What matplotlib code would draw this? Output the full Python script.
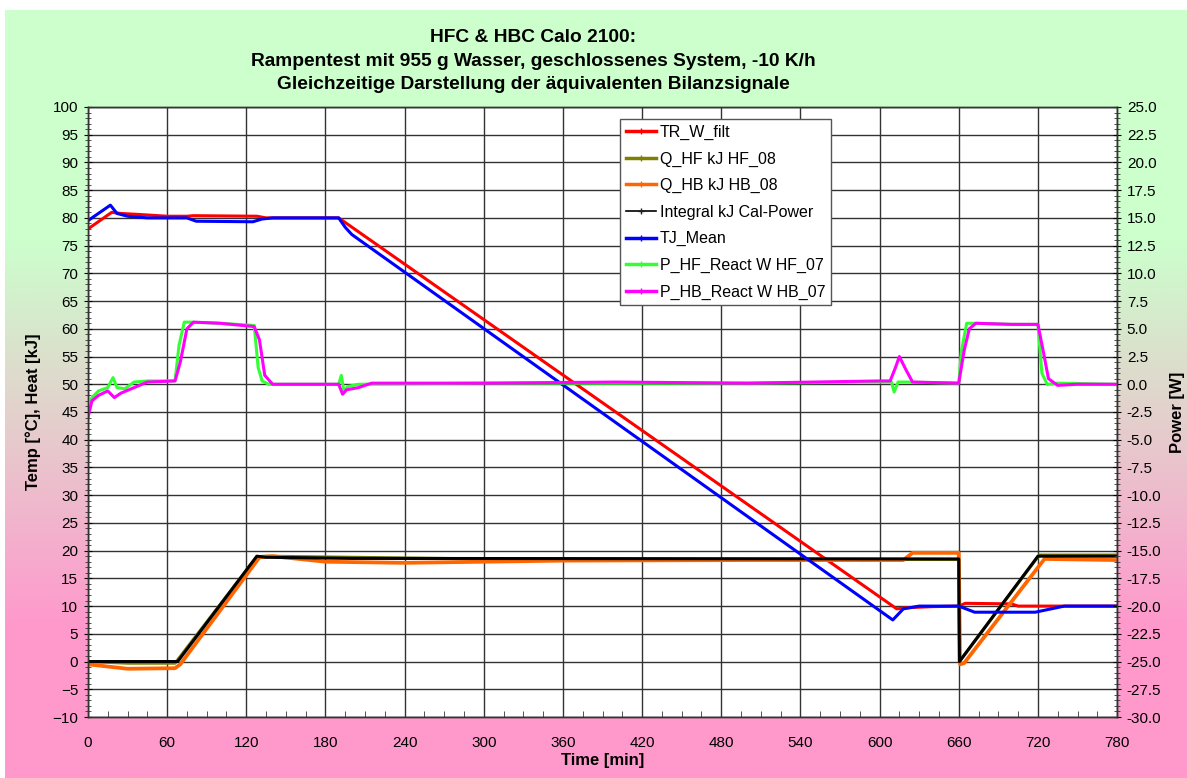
import numpy as np
import matplotlib
matplotlib.use("Agg")
import matplotlib.pyplot as plt
from matplotlib.lines import Line2D
from matplotlib.ticker import MultipleLocator, FormatStrFormatter
from matplotlib.colors import to_rgb

plt.rcParams['font.family'] = ['Liberation Sans', 'DejaVu Sans']

# --- data (time in min) ---
tr_t = [0, 18, 25, 40, 60, 75, 80, 128, 135, 190, 613, 620, 640, 660, 665, 700, 705, 780]
tr_v = [78, 81, 80.8, 80.6, 80.3, 80.3, 80.4, 80.3, 80, 80, 9.5, 9.7, 9.9, 10, 10.5, 10.4, 10, 10]

hf_t = [0, 30, 66, 128, 135, 200, 300, 660, 660.5, 721, 780]
hf_v = [0, -0.3, -0.3, 18.9, 19, 18.8, 18.5, 18.4, 0, 19.2, 19.2]

hb_t = [0, 30, 66, 70, 130, 140, 180, 240, 360, 500, 618, 625, 660, 661, 664, 725, 780]
hb_v = [-0.5, -1.3, -1.2, -0.5, 18.8, 19, 18, 17.8, 18.2, 18.3, 18.3, 19.6, 19.6, -0.5, -0.3, 18.5, 18.3]

int_t = [0, 68, 128, 135, 200, 660, 660.5, 720, 780]
int_v = [0, 0, 19, 18.8, 18.6, 18.5, 0, 19, 19]

tj_t = [0, 17, 22, 30, 45, 75, 82, 125, 132, 140, 190, 195, 200, 610, 618, 630, 660, 672, 718, 740, 780]
tj_v = [79.5, 82.3, 80.8, 80.3, 80, 80, 79.4, 79.3, 79.8, 80, 80, 78.3, 77, 7.5, 9.5, 10, 10, 8.9, 8.9, 10, 10]

phf_t = [0, 3, 8, 15, 19, 22, 28, 35, 45, 66, 69, 73, 78, 100, 126, 129, 132, 137, 190, 192,
         194, 197, 205, 300, 400, 500, 600, 609, 611, 614, 620, 660, 662, 666, 672, 700, 720, 723, 727, 735, 780]
phf_v = [-2.2, -1.2, -0.6, -0.3, 0.6, -0.3, -0.4, 0.2, 0.3, 0.3, 3.5, 5.6, 5.6, 5.5, 5.3, 1.5, 0.3, 0.0, 0.0, 0.8,
         -0.6, -0.2, 0.0, 0.1, 0.1, 0.1, 0.2, 0.2, -0.7, 0.2, 0.2, 0.1, 3.0, 5.5, 5.5, 5.4, 5.4, 1.0, 0.0, 0.1, 0.0]

phb_t = [0, 3, 8, 15, 20, 25, 35, 45, 66, 70, 75, 80, 100, 126, 130, 134, 140, 190, 193, 196,
         205, 215, 300, 400, 500, 600, 608, 612, 615, 620, 625, 660, 664, 668, 673, 700, 720, 724, 728, 735, 750, 780]
phb_v = [-3, -1.5, -1.0, -0.6, -1.2, -0.8, -0.3, 0.2, 0.3, 2.0, 5.0, 5.6, 5.5, 5.2, 4.0, 0.8, 0.0, 0.0, -0.9, -0.5,
         -0.3, 0.1, 0.1, 0.2, 0.1, 0.3, 0.3, 1.5, 2.5, 1.3, 0.2, 0.1, 3.0, 5.0, 5.5, 5.4, 5.4, 3.0, 0.5, -0.1, 0.0, 0.0]

labels = ["TR_W_filt", "Q_HF kJ HF_08", "Q_HB kJ HB_08", "Integral kJ Cal-Power",
          "TJ_Mean", "P_HF_React W HF_07", "P_HB_React W HB_07"]
colors = ["#ff0000", "#808000", "#ff6600", "#000000", "#0000ff", "#33ff33", "#ff00ff"]

fig = plt.figure(figsize=(11.87, 7.78), dpi=100)
fig.patch.set_facecolor("white")

# gradient background (green top -> pink bottom)
bg = fig.add_axes([0.004, 0, 0.996, 0.987], zorder=-10)
green = np.array(to_rgb("#ccffcc"))
pink = np.array(to_rgb("#ff99cc"))
h = np.linspace(0, 1, 300)[:, None]
f = np.clip((h - 0.3) / 0.5, 0, 1)
grad = green * (1 - f[..., None]) + pink * f[..., None]
grad = np.repeat(grad, 2, axis=1)
bg.imshow(grad, aspect="auto", extent=[0, 1, 0, 1])
bg.axis("off")

ax = fig.add_axes([0.0741, 0.0784, 0.867, 0.7841])
ax.set_facecolor("white")
ax2 = ax.twinx()

lw = 2.2
ax.plot(tr_t, tr_v, color=colors[0], lw=lw)
ax.plot(hf_t, hf_v, color=colors[1], lw=lw)
ax.plot(hb_t, hb_v, color=colors[2], lw=lw + 0.5)
ax.plot(int_t, int_v, color=colors[3], lw=lw)
ax.plot(tj_t, tj_v, color=colors[4], lw=lw)
ax2.plot(phf_t, phf_v, color=colors[5], lw=lw)
ax2.plot(phb_t, phb_v, color=colors[6], lw=lw)

ax.set_xlim(0, 780)
ax.set_ylim(-10, 100)
ax2.set_ylim(-30, 25)

ax.xaxis.set_major_locator(MultipleLocator(60))
ax.xaxis.set_minor_locator(MultipleLocator(15))
ax.yaxis.set_major_locator(MultipleLocator(5))
ax.yaxis.set_minor_locator(MultipleLocator(1))
ax2.yaxis.set_major_locator(MultipleLocator(2.5))
ax2.yaxis.set_minor_locator(MultipleLocator(0.5))
ax2.yaxis.set_major_formatter(FormatStrFormatter("%.1f"))

ax.grid(True, which="major", color="#333333", lw=1)
ax.set_axisbelow(True)
for a in (ax, ax2):
    for s in a.spines.values():
        s.set_color("#333333")
        s.set_linewidth(1)

ax.tick_params(axis="x", which="major", direction="in", length=0, pad=14, labelsize=11)
ax.tick_params(axis="x", which="minor", direction="in", length=4, color="#333333")
ax.tick_params(axis="y", which="major", direction="inout", length=6, labelsize=11, pad=4)
ax.tick_params(axis="y", which="minor", direction="inout", length=4, color="#333333")
ax2.tick_params(axis="y", which="major", direction="inout", length=6, labelsize=11, pad=4)
ax2.tick_params(axis="y", which="minor", direction="inout", length=4, color="#333333")

ax.set_xlabel("Time [min]", fontsize=12, fontweight="bold", labelpad=2)
ax.set_ylabel("Temp [°C], Heat [kJ]", fontsize=12, fontweight="bold", labelpad=8)
ax2.set_ylabel("Power [W]", fontsize=12, fontweight="bold", labelpad=6)

fig.text(0.449, 0.952, "HFC & HBC Calo 2100:", ha="center", va="center", fontsize=13.8, fontweight="bold")
fig.text(0.449, 0.921, "Rampentest mit 955 g Wasser, geschlossenes System, -10 K/h",
         ha="center", va="center", fontsize=13.8, fontweight="bold")
fig.text(0.449, 0.891, "Gleichzeitige Darstellung der äquivalenten Bilanzsignale",
         ha="center", va="center", fontsize=13.8, fontweight="bold")

handles = [Line2D([], [], color=c, lw=2.5 if c != "#000000" else 1.2, marker="+",
                  markersize=4, markeredgecolor="#202020" if c == "#000000" else c)
           for c in colors]
leg = ax2.legend(handles, labels, loc="upper left", bbox_to_anchor=(0.517, 0.98),
                 borderaxespad=0, fontsize=11.5, frameon=True, fancybox=False, framealpha=1,
                 edgecolor="#555555", handlelength=1.9, handletextpad=0.25,
                 labelspacing=0.72, borderpad=0.35)
leg.get_frame().set_linewidth(1)

fig.savefig("out.png", dpi=100)
